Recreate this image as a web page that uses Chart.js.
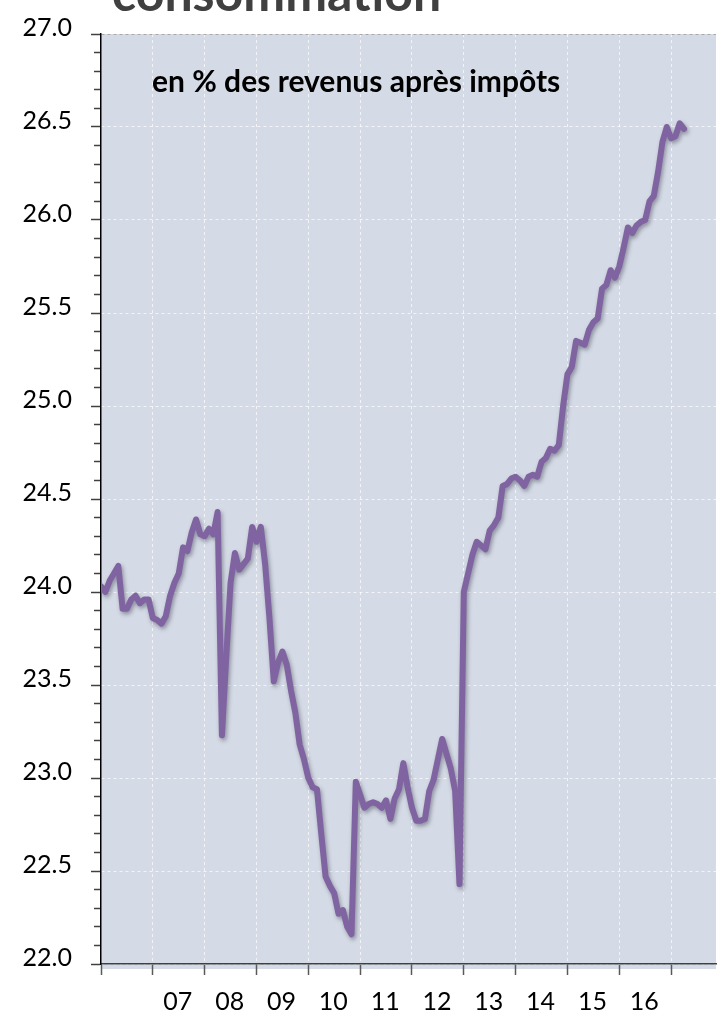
<!DOCTYPE html>
<html>
<head>
<meta charset="utf-8">
<script src="https://cdn.jsdelivr.net/npm/chart.js@4.4.0/dist/chart.umd.min.js"></script>
<style>
  html, body { margin: 0; padding: 0; background: #ffffff; }
  #wrap { position: relative; width: 721px; height: 1013px; overflow: hidden; }
</style>
</head>
<body>
<div id="wrap"><canvas id="c" width="721" height="1013"></canvas></div>
<script>
// ---- Data (monthly, Jan 2006 = month 0) ----
const titleText = 'consommation';
const subtitleText = 'en % des revenus après impôts';

const ratio = [
  24.03, 24.00, 24.06, 24.10, 24.14, 23.91, 23.91, 23.96, 23.98, 23.94, 23.96, 23.96,
  23.86, 23.85, 23.83, 23.87, 23.98, 24.05, 24.10, 24.24, 24.22, 24.32, 24.39, 24.31,
  24.30, 24.34, 24.31, 24.43, 23.23, 23.65, 24.05, 24.21, 24.12, 24.15, 24.18, 24.35,
  24.27, 24.35, 24.15, 23.86, 23.52, 23.62, 23.68, 23.61, 23.47, 23.35, 23.18, 23.10,
  23.00, 22.95, 22.94, 22.70, 22.47, 22.42, 22.38, 22.27, 22.29, 22.20, 22.16, 22.98,
  22.91, 22.84, 22.86, 22.87, 22.86, 22.84, 22.88, 22.78, 22.89, 22.94, 23.08, 22.95,
  22.84, 22.77, 22.77, 22.78, 22.93, 22.99, 23.10, 23.21, 23.13, 23.05, 22.93, 22.43,
  24.00, 24.10, 24.20, 24.27, 24.25, 24.23, 24.33, 24.36, 24.40, 24.57, 24.58, 24.61,
  24.62, 24.60, 24.57, 24.62, 24.63, 24.62, 24.70, 24.72, 24.77, 24.76, 24.79, 25.00,
  25.17, 25.21, 25.35, 25.34, 25.33, 25.41, 25.45, 25.47, 25.63, 25.65, 25.73, 25.69,
  25.75, 25.85, 25.96, 25.93, 25.97, 25.99, 26.00, 26.10, 26.13, 26.26, 26.42, 26.50,
  26.44, 26.45, 26.52, 26.49
];
const monthIndex = ratio.map((_, i) => i);

const xTickMonths = [0, 12, 24, 36, 48, 60, 72, 84, 96, 108, 120, 132];
const xTickLabels = ['', '07', '08', '09', '10', '11', '12', '13', '14', '15', '16', ''];
const xMax = 142.4;

const yMin = 22, yMax = 27;
const yMajorLabels = ['22.0', '22.5', '23.0', '23.5', '24.0', '24.5', '25.0', '25.5', '26.0', '26.5', '27.0'];
const yTickValues = [];
for (let k = 0; k <= 50; k++) yTickValues.push(Math.round((yMin + k * 0.1) * 10) / 10);

// ---- helpers ----
const isMajor = v => Math.abs(v * 2 - Math.round(v * 2)) < 1e-6;
const FONT = 'Lato, "Open Sans", sans-serif';

const plotBg = {
  id: 'plotBg',
  beforeDraw(chart) {
    const { ctx, chartArea: a } = chart;
    ctx.save();
    ctx.fillStyle = '#d5dbe6';
    ctx.fillRect(a.left, a.top, a.right - a.left, a.bottom - a.top + 5);
    ctx.restore();
  }
};

const lineShadow = {
  id: 'lineShadow',
  beforeDatasetDraw(chart) {
    const ctx = chart.ctx;
    ctx.save();
    ctx.shadowColor = 'rgba(50,50,70,0.45)';
    ctx.shadowBlur = 4;
    ctx.shadowOffsetX = 1.5;
    ctx.shadowOffsetY = 2.5;
  },
  afterDatasetDraw(chart) {
    chart.ctx.restore();
  }
};

const texts = {
  id: 'texts',
  afterDraw(chart) {
    const ctx = chart.ctx;
    ctx.save();
    ctx.textBaseline = 'alphabetic';
    ctx.textAlign = 'left';
    ctx.fillStyle = '#000000';
    ctx.font = 'bold 30px ' + FONT;
    ctx.fillText(subtitleText, 152, 92);
    ctx.fillStyle = '#404040';
    ctx.font = 'bold 50px ' + FONT;
    ctx.fillText(titleText, 112, 11);
    ctx.restore();
  }
};

new Chart(document.getElementById('c'), {
  type: 'line',
  data: {
    datasets: [{
      data: monthIndex.map((m, i) => ({ x: m, y: ratio[i] })),
      borderColor: '#8064a2',
      borderWidth: 6,
      pointRadius: 0,
      tension: 0,
      borderJoinStyle: 'round',
      borderCapStyle: 'round',
      fill: false
    }]
  },
  options: {
    responsive: false,
    animation: false,
    devicePixelRatio: 1,
    layout: { padding: { top: 29, right: 5, left: 0, bottom: 0 } },
    plugins: { legend: { display: false }, tooltip: { enabled: false }, title: { display: false } },
    scales: {
      x: {
        type: 'linear',
        min: 0,
        max: xMax,
        position: 'bottom',
        afterBuildTicks: s => { s.ticks = xTickMonths.map(v => ({ value: v })); },
        afterFit: s => { s.height = 49; },
        grid: {
          color: c => (c.tick && c.tick.value === 0) ? 'rgba(0,0,0,0)' : 'rgba(255,255,255,0.7)',
          lineWidth: 1,
          drawTicks: true,
          tickLength: 11,
          tickColor: '#595959',
          tickWidth: 1.5
        },
        border: { display: true, color: '#404040', width: 1.5, dash: [3, 3] },
        ticks: {
          autoSkip: false,
          maxRotation: 0,
          labelOffset: 25,
          padding: 12,
          color: '#000000',
          font: { family: FONT, size: 25 },
          callback: (v, i) => xTickLabels[i]
        }
      },
      y: {
        min: yMin,
        max: yMax,
        afterBuildTicks: s => { s.ticks = yTickValues.map(v => ({ value: v })); },
        afterFit: s => { s.width = 101; },
        grid: {
          color: c => {
            const v = c.tick ? c.tick.value : 0;
            if (!isMajor(v)) return 'rgba(0,0,0,0)';
            if (Math.abs(v - yMax) < 1e-6) return '#a8a8a8';
            return 'rgba(255,255,255,0.7)';
          },
          lineWidth: 1,
          drawTicks: true,
          tickLength: 10,
          tickColor: '#404040',
          tickWidth: 1.5,
          tickBorderDash: c => (c.tick && isMajor(c.tick.value)) ? [] : [7, 3],
          tickBorderDashOffset: c => (c.tick && isMajor(c.tick.value)) ? 0 : 7
        },
        border: { display: true, color: '#000000', width: 1.5, dash: [3, 3] },
        ticks: {
          autoSkip: false,
          padding: 19,
          labelOffset: -6,
          color: '#000000',
          font: { family: FONT, size: 25 },
          callback: v => isMajor(v) ? yMajorLabels[Math.round((v - yMin) * 2)] : ''
        }
      }
    }
  },
  plugins: [plotBg, lineShadow, texts]
});
</script>
</body>
</html>
